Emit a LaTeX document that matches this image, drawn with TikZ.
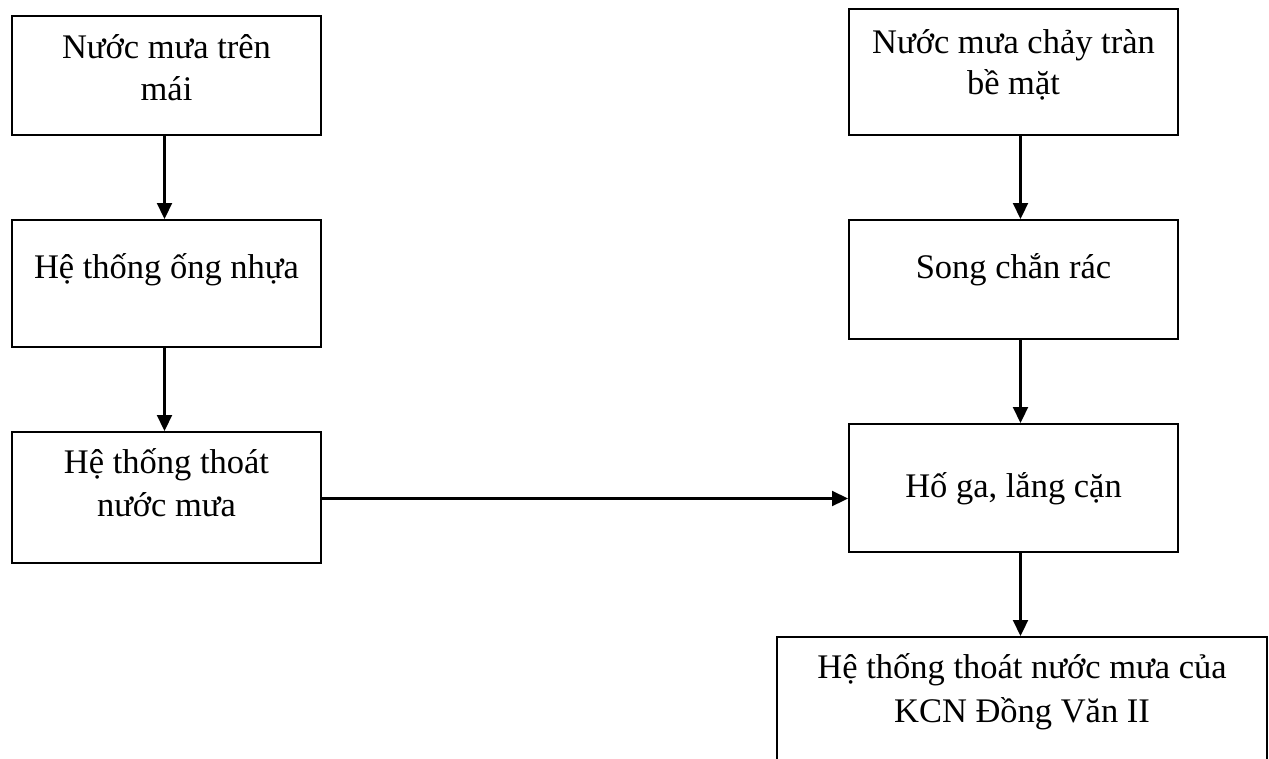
\documentclass[tikz,border=0pt]{standalone}
\usepackage{fontspec}
\setmainfont{Liberation Serif}
\usetikzlibrary{arrows.meta}
\begin{document}
\begin{tikzpicture}[x=1pt,y=-1pt,
  boxst/.style={draw,line width=2pt,rectangle,inner sep=0pt,anchor=north west},
  txt/.style={anchor=base,inner sep=0pt,font=\fontsize{34.5}{42}\selectfont},
  arr/.style={line width=2.2pt,-{Triangle[length=16pt,width=15pt]}}]
\useasboundingbox (0,0) rectangle (1269,758);
\clip (0,0) rectangle (1269,758);
\node[boxst,minimum width=309pt,minimum height=119pt] (b1) at (11,15) {};
\node[boxst,minimum width=309pt,minimum height=127pt] (b2) at (11,219) {};
\node[boxst,minimum width=309pt,minimum height=131pt] (b3) at (11,431) {};
\node[boxst,minimum width=329pt,minimum height=126pt] (b4) at (848,8) {};
\node[boxst,minimum width=329pt,minimum height=119pt] (b5) at (848,219) {};
\node[boxst,minimum width=329pt,minimum height=128pt] (b6) at (848,423) {};
\node[boxst,minimum width=490pt,minimum height=150pt] (b7) at (776,636) {};
% texts
\node[txt] (t1a) at ([yshift=-43pt]b1.north) {Nước mưa trên};
\node[txt] (t1b) at ([yshift=-85pt]b1.north) {mái};
\node[txt] (t2) at ([yshift=-59pt]b2.north) {Hệ thống ống nhựa};
\node[txt] (t3a) at ([yshift=-42pt]b3.north) {Hệ thống thoát};
\node[txt] (t3b) at ([yshift=-85pt]b3.north) {nước mưa};
\node[txt] (t4a) at ([yshift=-45pt]b4.north) {Nước mưa chảy tràn};
\node[txt] (t4b) at ([yshift=-86pt]b4.north) {bề mặt};
\node[txt] (t5) at ([yshift=-59pt]b5.north) {Song chắn rác};
\node[txt] (t6) at ([yshift=-74pt]b6.north) {Hố ga, lắng cặn};
\node[txt] (t7a) at ([yshift=-42pt]b7.north) {Hệ thống thoát nước mưa của};
\node[txt] (t7b) at ([yshift=-86pt]b7.north) {KCN Đồng Văn II};
% arrows
\draw[arr] ([xshift=-2pt]b1.south) -- ([xshift=-2pt]b2.north);
\draw[arr] ([xshift=-2pt]b2.south) -- ([xshift=-2pt]b3.north);
\draw[arr] ([xshift=7pt]b4.south) -- ([xshift=7pt]b5.north);
\draw[arr] ([xshift=7pt]b5.south) -- ([xshift=7pt]b6.north);
\draw[arr] ([xshift=7pt]b6.south) -- ([xshift=7pt]b6.south |- b7.north);
\draw[arr] ([yshift=-1pt]b3.east) -- ([yshift=-1pt]b3.east -| b6.west);
\end{tikzpicture}
\end{document}
